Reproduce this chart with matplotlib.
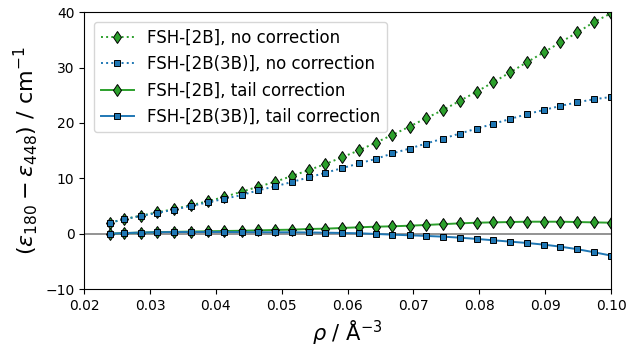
import matplotlib
matplotlib.use("Agg")
import matplotlib.pyplot as plt

#____________________________________________________________________________________________________
# data
rho = [0.0240, 0.0260, 0.0286, 0.0311, 0.0337, 0.0362, 0.0388, 0.0413, 0.0439, 0.0464,
       0.0490, 0.0515, 0.0541, 0.0566, 0.0592, 0.0617, 0.0643, 0.0668, 0.0694, 0.0719,
       0.0745, 0.0770, 0.0796, 0.0821, 0.0847, 0.0872, 0.0898, 0.0923, 0.0949, 0.0974,
       0.1000]

# (eps_180 - eps_448) in cm^-1
fsh_2b_raw = [2.0, 2.6, 3.25, 3.85, 4.45, 5.15, 5.85, 6.65, 7.57, 8.47,
              9.37, 10.4, 11.48, 12.56, 13.82, 15.03, 16.45, 17.84, 19.33, 20.85,
              22.34, 23.96, 25.64, 27.33, 29.14, 30.94, 32.74, 34.54, 36.34, 38.2,
              39.8]
fsh_3b_raw = [2.0, 2.6, 3.2, 3.75, 4.35, 5.0, 5.65, 6.3, 6.97, 7.82,
              8.54, 9.32, 10.16, 10.99, 11.84, 12.68, 13.51, 14.49, 15.37, 16.27,
              17.17, 18.07, 18.97, 19.82, 20.72, 21.57, 22.34, 23.06, 23.73, 24.27,
              24.68]
fsh_2b_tail = [0.0, 0.1, 0.2, 0.28, 0.33, 0.38, 0.43, 0.48, 0.53, 0.6,
               0.67, 0.72, 0.85, 0.9, 1.03, 1.15, 1.26, 1.33, 1.44, 1.57,
               1.72, 1.86, 1.98, 2.04, 2.1, 2.16, 2.16, 2.16, 2.1, 2.04,
               1.98]
fsh_3b_tail = [0.0, 0.1, 0.2, 0.25, 0.3, 0.3, 0.3, 0.3, 0.28, 0.26,
               0.25, 0.25, 0.22, 0.18, 0.13, 0.07, -0.05, -0.18, -0.29, -0.41,
               -0.54, -0.72, -0.95, -1.19, -1.44, -1.68, -1.98, -2.34, -2.81, -3.35,
               -3.96]

labels = ["FSH-[2B], no correction", "FSH-[2B(3B)], no correction",
          "FSH-[2B], tail correction", "FSH-[2B(3B)], tail correction"]

#____________________________________________________________________________________________________
# plot
def main():
    fig, ax = plt.subplots(figsize=(6.28, 3.47), dpi=100)
    fig.subplots_adjust(left=0.134, right=0.973, top=0.965, bottom=0.167)

    green = "#2ca02c"
    blue = "#1f77b4"

    ax.axhline(0, color="gray", lw=1.2, zorder=1)

    style_d = dict(marker="d", ms=6, mec="k", mew=0.7, lw=1.4)
    style_s = dict(marker="s", ms=4.5, mec="k", mew=0.7, lw=1.4)

    ax.plot(rho, fsh_2b_raw, ls=":", color=green, mfc=green, label=labels[0], **style_d)
    ax.plot(rho, fsh_3b_raw, ls=":", color=blue, mfc=blue, label=labels[1], **style_s)
    ax.plot(rho, fsh_2b_tail, ls="-", color=green, mfc=green, label=labels[2], **style_d)
    ax.plot(rho, fsh_3b_tail, ls="-", color=blue, mfc=blue, label=labels[3], **style_s)

    ax.set_xlim(0.02, 0.10)
    ax.set_ylim(-10, 40)
    ax.set_xticks([0.02, 0.03, 0.04, 0.05, 0.06, 0.07, 0.08, 0.09, 0.10])
    ax.set_yticks([-10, 0, 10, 20, 30, 40])
    ax.tick_params(labelsize=10)

    ax.set_xlabel(r"$\rho$ / Å$^{-3}$", fontsize=15)
    ax.set_ylabel(r"$(\varepsilon_{180} - \varepsilon_{448})$ / cm$^{-1}$", fontsize=16)

    ax.legend(loc="upper left", fontsize=12, handlelength=2.0, borderaxespad=0.6)

    fig.savefig("out.png", dpi=100)

if __name__ == "__main__":
    main()
